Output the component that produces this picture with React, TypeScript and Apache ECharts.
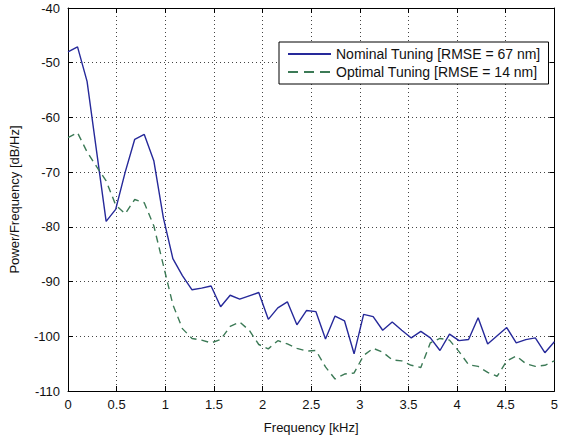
import React, { useEffect, useRef } from "react";
import * as echarts from "echarts";

const frequencyKHz = [
  0, 0.098, 0.196, 0.294, 0.392, 0.49, 0.588, 0.686, 0.784, 0.882,
  0.98, 1.078, 1.176, 1.275, 1.373, 1.471, 1.569, 1.667, 1.765, 1.863,
  1.961, 2.059, 2.157, 2.255, 2.353, 2.451, 2.549, 2.647, 2.745, 2.843,
  2.941, 3.039, 3.137, 3.235, 3.333, 3.431, 3.529, 3.627, 3.725, 3.824,
  3.922, 4.02, 4.118, 4.216, 4.314, 4.412, 4.51, 4.608, 4.706, 4.804,
  4.902, 5.0,
];

const nominalTuning = [
  -48.0, -47.1, -53.4, -66.2, -79.0, -76.8, -70.0, -64.0, -63.1, -67.9,
  -78.3, -85.8, -88.9, -91.5, -91.2, -90.8, -94.6, -92.5, -93.2, -92.6,
  -92.0, -96.9, -94.8, -93.7, -97.9, -95.3, -95.5, -100.5, -96.3, -97.2,
  -103.2, -96.0, -96.4, -98.9, -97.4, -98.9, -100.3, -99.1, -100.3, -102.6,
  -99.6, -100.8, -100.6, -96.6, -101.4, -99.9, -98.4, -101.2, -100.6, -100.3,
  -103.0, -101.0,
];

const optimalTuning = [
  -63.7, -62.8, -66.3, -69.0, -71.6, -76.0, -77.6, -75.0, -75.6, -79.8,
  -87.0, -94.2, -98.6, -100.4, -100.7, -101.2, -100.6, -98.2, -97.4, -98.9,
  -101.5, -102.3, -100.8, -101.4, -102.2, -102.7, -102.6, -105.6, -107.8, -106.9,
  -106.7, -103.5, -102.2, -102.9, -104.3, -104.5, -105.3, -105.7, -101.2, -100.4,
  -100.7, -102.8, -105.2, -105.5, -106.6, -107.3, -104.5, -103.6, -105.0, -105.5,
  -105.3, -104.5,
];

const seriesNames = ["Nominal Tuning [RMSE = 67 nm]", "Optimal Tuning [RMSE = 14 nm]"];

const FONT = "'Liberation Sans', Arial, Helvetica, sans-serif";

export default function App() {
  const ref = useRef<HTMLDivElement>(null);

  useEffect(() => {
    if (!ref.current) return;
    const chart = echarts.init(ref.current, undefined, { renderer: "svg" });

    const gridLine = { show: true, lineStyle: { color: "#444", type: [1, 3] as any, width: 1 } };
    const axisLine = { show: true, onZero: false, lineStyle: { color: "#000", width: 1 } };
    const axisTick = { show: true, inside: true, length: 5, lineStyle: { color: "#000" } };
    const labelStyle = { color: "#111", fontSize: 13, fontFamily: FONT };

    chart.setOption({
      animation: false,
      backgroundColor: "#fff",
      textStyle: { fontFamily: FONT },
      grid: { left: 63, right: 5, top: 8, bottom: 42, containLabel: false },
      legend: {
        left: 279,
        top: 42,
        orient: "vertical",
        data: [
          { name: seriesNames[0] },
          { name: seriesNames[1], lineStyle: { type: [10, 6] as any } },
        ],
        itemWidth: 43,
        itemHeight: 14,
        itemGap: 4,
        padding: [5, 8, 5, 8],
        borderColor: "#000",
        borderWidth: 1,
        borderRadius: 0,
        backgroundColor: "#fff",
        itemStyle: { opacity: 0 },
        textStyle: { color: "#111", fontSize: 14, fontFamily: FONT },
      },
      xAxis: [
        {
          type: "value",
          min: 0,
          max: 5,
          interval: 0.5,
          name: "Frequency [kHz]",
          nameLocation: "middle",
          nameGap: 30,
          nameTextStyle: { color: "#111", fontSize: 13, fontFamily: FONT },
          axisLine,
          axisTick,
          axisLabel: { ...labelStyle, margin: 7 },
          splitLine: gridLine,
        },
        {
          type: "value",
          position: "top",
          min: 0,
          max: 5,
          interval: 0.5,
          axisLine,
          axisTick,
          axisLabel: { show: false },
          splitLine: { show: false },
        },
      ],
      yAxis: [
        {
          type: "value",
          min: -110,
          max: -40,
          interval: 10,
          name: "Power/Frequency [dB/Hz]",
          nameLocation: "middle",
          nameGap: 47,
          nameTextStyle: { color: "#111", fontSize: 13, fontFamily: FONT },
          axisLine,
          axisTick,
          axisLabel: { ...labelStyle, margin: 8 },
          splitLine: gridLine,
        },
        {
          type: "value",
          position: "right",
          min: -110,
          max: -40,
          interval: 10,
          axisLine,
          axisTick,
          axisLabel: { show: false },
          splitLine: { show: false },
        },
      ],
      series: [
        {
          name: seriesNames[0],
          type: "line",
          symbol: "none",
          xAxisIndex: 0,
          yAxisIndex: 0,
          data: frequencyKHz.map((f, i) => [f, nominalTuning[i]]),
          lineStyle: { color: "#26299a", width: 1.4 },
          itemStyle: { color: "#26299a" },
        },
        {
          name: seriesNames[1],
          type: "line",
          symbol: "none",
          xAxisIndex: 0,
          yAxisIndex: 0,
          data: frequencyKHz.map((f, i) => [f, optimalTuning[i]]),
          lineStyle: { color: "#3c7a56", width: 1.4, type: [7, 5] as any },
          itemStyle: { color: "#3c7a56" },
        },
      ],
    });

    return () => chart.dispose();
  }, []);

  return (
    <div
      ref={ref}
      style={{ position: "fixed", left: 0, top: 0, width: 561, height: 439, background: "#fff" }}
    />
  );
}
